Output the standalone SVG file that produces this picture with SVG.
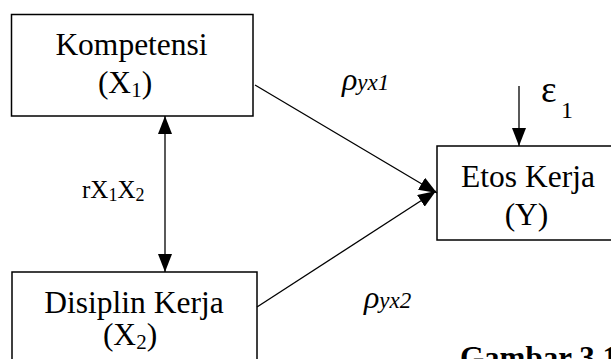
<svg xmlns="http://www.w3.org/2000/svg" width="611" height="359" viewBox="0 0 611 359">
  <style>
    .box { fill: #fff; stroke: #000; stroke-width: 1.5; }
    .lbl { font-family: "Liberation Serif", "Times New Roman", serif; font-size: 31.5px; fill: #000; text-anchor: middle; }
    .free { font-family: "Liberation Serif", "Times New Roman", serif; fill: #000; }
    .sub { font-size: 21px; }
    .edge { stroke: #000; stroke-width: 1.3; fill: none; }
  </style>
  <defs>
    <marker id="head" markerUnits="userSpaceOnUse" markerWidth="18" markerHeight="14" refX="18" refY="7" orient="auto-start-reverse" viewBox="0 0 18 14">
      <path d="M0,0 L18,7 L0,14 z" fill="#000"/>
    </marker>
  </defs>

  <rect width="611" height="359" fill="#fff"/>

  <!-- nodes -->
  <g id="kompetensi">
    <rect class="box" x="11.5" y="14.5" width="241.5" height="101.5"/>
    <text class="lbl" x="131.5" y="55">Kompetensi</text>
    <text class="lbl" x="125" y="93">(X<tspan class="sub" dy="4">1</tspan><tspan dy="-4">)</tspan></text>
  </g>

  <g id="disiplin">
    <rect class="box" x="12" y="272" width="245" height="100"/>
    <text class="lbl" x="134" y="313">Disiplin Kerja</text>
    <text class="lbl" x="130" y="345">(X<tspan class="sub" dy="4">2</tspan><tspan dy="-4">)</tspan></text>
  </g>

  <g id="etos">
    <rect class="box" x="437" y="146" width="182" height="94"/>
    <text class="lbl" x="528" y="187">Etos Kerja</text>
    <text class="lbl" x="526.5" y="225">(Y)</text>
  </g>

  <!-- connectors -->
  <g id="connectors">
    <line class="edge" x1="165" y1="116" x2="165" y2="272" marker-start="url(#head)" marker-end="url(#head)"/>
    <line class="edge" x1="255" y1="85" x2="437" y2="193" marker-end="url(#head)"/>
    <line class="edge" x1="257" y1="307" x2="436" y2="191" marker-end="url(#head)"/>
    <line class="edge" x1="519" y1="86" x2="519" y2="146" marker-end="url(#head)"/>
  </g>

  <!-- path coefficients and error term -->
  <g id="labels">
    <text class="free" x="342" y="90" font-style="italic"><tspan font-size="32">ρ</tspan><tspan font-size="23">yx1</tspan></text>
    <text class="free" x="364" y="308" font-style="italic"><tspan font-size="32">ρ</tspan><tspan font-size="23">yx2</tspan></text>
    <text class="free" x="82" y="198" font-size="25">rX<tspan font-size="18" dy="3">1</tspan><tspan dy="-3">X</tspan><tspan font-size="18" dy="3">2</tspan></text>
    <text class="free" x="541" y="102" font-size="37">ε</text>
    <text class="free" x="561" y="118" font-size="24">1</text>
    <text class="free" x="460" y="368" font-size="31" font-weight="bold">Gambar 3.1</text>
  </g>
</svg>
